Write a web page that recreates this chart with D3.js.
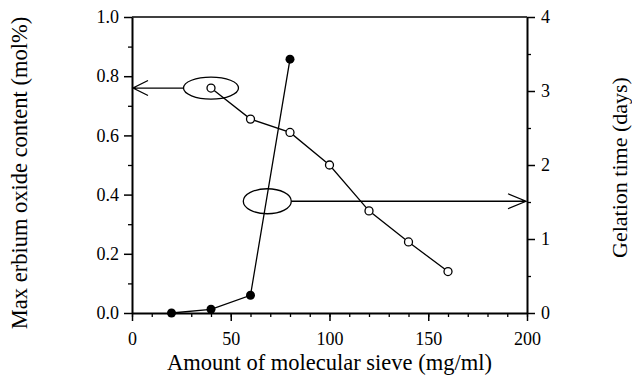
<!DOCTYPE html>
<html>
<head>
<meta charset="utf-8">
<script src="https://cdn.jsdelivr.net/npm/d3@7"></script>
<style>
  html, body { margin: 0; padding: 0; background: #fff; }
  svg { display: block; }
  text { font-family: "Liberation Serif", "Times New Roman", serif; fill: #000; }
</style>
</head>
<body>
<svg id="chart" width="632" height="377"></svg>
<script>
// Max erbium oxide content (left axis, open circles)
const erbiumSieve = [40, 60, 80, 100, 120, 140, 160];
const erbiumContent = [0.76, 0.655, 0.61, 0.50, 0.345, 0.24, 0.14];

// Gelation time (right axis, filled circles)
const gelSieve = [20, 40, 60, 80];
const gelDays = [0, 0.05, 0.24, 3.43];

// Axis ticks
const xTicks = [0, 50, 100, 150, 200];
const yLeftTicks = [0, 0.2, 0.4, 0.6, 0.8, 1.0];
const yRightTicks = [0, 1, 2, 3, 4];

// Callouts: ellipse around a point of each series, arrow towards its axis
const erbiumCallout = { x: 40, value: 0.76 };
const gelCallout = { x: 68.5, value: 1.51 };

const svg = d3.select("#chart");
const margin = { top: 17, right: 105, bottom: 64, left: 132 };
const W = 632, H = 377;

const x = d3.scaleLinear().domain([0, 200]).range([margin.left, W - margin.right]);
const yL = d3.scaleLinear().domain([0, 1]).range([H - margin.bottom, margin.top]);
const yR = d3.scaleLinear().domain([0, 4]).range([H - margin.bottom, margin.top]);

const tickFont = "18px";

// minor ticks
svg.append("g").attr("transform", `translate(0,${yL(0)})`)
  .call(d3.axisBottom(x).tickValues(d3.range(0, 201, 10)).tickSize(4).tickFormat(""))
  .call(g => g.select(".domain").remove())
  .selectAll("line").attr("stroke-width", 1.3);
svg.append("g").attr("transform", `translate(${x(0)},0)`)
  .call(d3.axisLeft(yL).tickValues(d3.range(0.1, 1.0, 0.2)).tickSize(4).tickFormat(""))
  .call(g => g.select(".domain").remove())
  .selectAll("line").attr("stroke-width", 1.3);
svg.append("g").attr("transform", `translate(${x(200)},0)`)
  .call(d3.axisRight(yR).tickValues(d3.range(0.5, 4, 1)).tickSize(4).tickFormat(""))
  .call(g => g.select(".domain").remove())
  .selectAll("line").attr("stroke-width", 1.3);

// major axes
const gx = svg.append("g").attr("transform", `translate(0,${yL(0)})`)
  .call(d3.axisBottom(x).tickValues(xTicks).tickSize(8).tickPadding(11.5).tickSizeOuter(0).tickFormat(d3.format("d")));
const gl = svg.append("g").attr("transform", `translate(${x(0)},0)`)
  .call(d3.axisLeft(yL).tickValues(yLeftTicks).tickSize(8).tickPadding(5).tickSizeOuter(0).tickFormat(d3.format(".1f")));
const gr = svg.append("g").attr("transform", `translate(${x(200)},0)`)
  .call(d3.axisRight(yR).tickValues(yRightTicks).tickSize(8).tickPadding(6).tickSizeOuter(0).tickFormat(d3.format("d")));

[gx, gl, gr].forEach(g => {
  g.select(".domain").attr("stroke-width", 2);
  g.selectAll(".tick line").attr("stroke-width", 1.5);
  g.selectAll("text").style("font-size", tickFont).style("font-family", "Liberation Serif");
});

// top frame line
svg.append("line")
  .attr("x1", x(0)).attr("x2", x(200))
  .attr("y1", yL(1)).attr("y2", yL(1))
  .attr("stroke", "#000").attr("stroke-width", 1.6);

// series lines
const erbiumData = erbiumSieve.map((s, i) => [s, erbiumContent[i]]);
const gelData = gelSieve.map((s, i) => [s, gelDays[i]]);

svg.append("path")
  .attr("d", d3.line().x(d => x(d[0])).y(d => yL(d[1]))(erbiumData))
  .attr("fill", "none").attr("stroke", "#000").attr("stroke-width", 1.3);
svg.append("path")
  .attr("d", d3.line().x(d => x(d[0])).y(d => yR(d[1]))(gelData))
  .attr("fill", "none").attr("stroke", "#000").attr("stroke-width", 1.3);

// callout ellipses and arrows
const e1x = x(erbiumCallout.x), e1y = yL(erbiumCallout.value);
svg.append("ellipse").attr("cx", e1x).attr("cy", e1y).attr("rx", 27.5).attr("ry", 11)
  .attr("fill", "none").attr("stroke", "#000").attr("stroke-width", 1.3);
svg.append("path")
  .attr("d", `M${e1x - 27.5},${e1y}L${x(0) + 1},${e1y}M${x(0) + 16},${e1y - 7.5}L${x(0) + 1},${e1y}L${x(0) + 16},${e1y + 7.5}`)
  .attr("fill", "none").attr("stroke", "#000").attr("stroke-width", 1.3);

const e2x = x(gelCallout.x), e2y = yR(gelCallout.value);
svg.append("ellipse").attr("cx", e2x).attr("cy", e2y).attr("rx", 24).attr("ry", 12.5)
  .attr("fill", "none").attr("stroke", "#000").attr("stroke-width", 1.3);
svg.append("path")
  .attr("d", `M${e2x + 24},${e2y}L${x(200) - 1},${e2y}M${x(200) - 19},${e2y - 7.5}L${x(200) - 1},${e2y}L${x(200) - 19},${e2y + 7.5}`)
  .attr("fill", "none").attr("stroke", "#000").attr("stroke-width", 1.3);

// markers
svg.append("g").selectAll("circle").data(erbiumData).join("circle")
  .attr("cx", d => x(d[0])).attr("cy", d => yL(d[1])).attr("r", 4)
  .attr("fill", "#fff").attr("stroke", "#000").attr("stroke-width", 1.3);
svg.append("g").selectAll("circle").data(gelData).join("circle")
  .attr("cx", d => x(d[0])).attr("cy", d => yR(d[1])).attr("r", 4.5)
  .attr("fill", "#000");

// axis titles
svg.append("text")
  .attr("x", (x(0) + x(200)) / 2).attr("y", 369.5)
  .attr("text-anchor", "middle").style("font-size", "22.5px")
  .text("Amount of molecular sieve (mg/ml)");
svg.append("text")
  .attr("transform", `translate(27,173) rotate(-90)`)
  .attr("text-anchor", "middle").style("font-size", "22.5px")
  .text("Max erbium oxide content (mol%)");
svg.append("text")
  .attr("transform", `translate(627,167.5) rotate(-90)`)
  .attr("text-anchor", "middle").style("font-size", "22px")
  .text("Gelation time (days)");
</script>
</body>
</html>
